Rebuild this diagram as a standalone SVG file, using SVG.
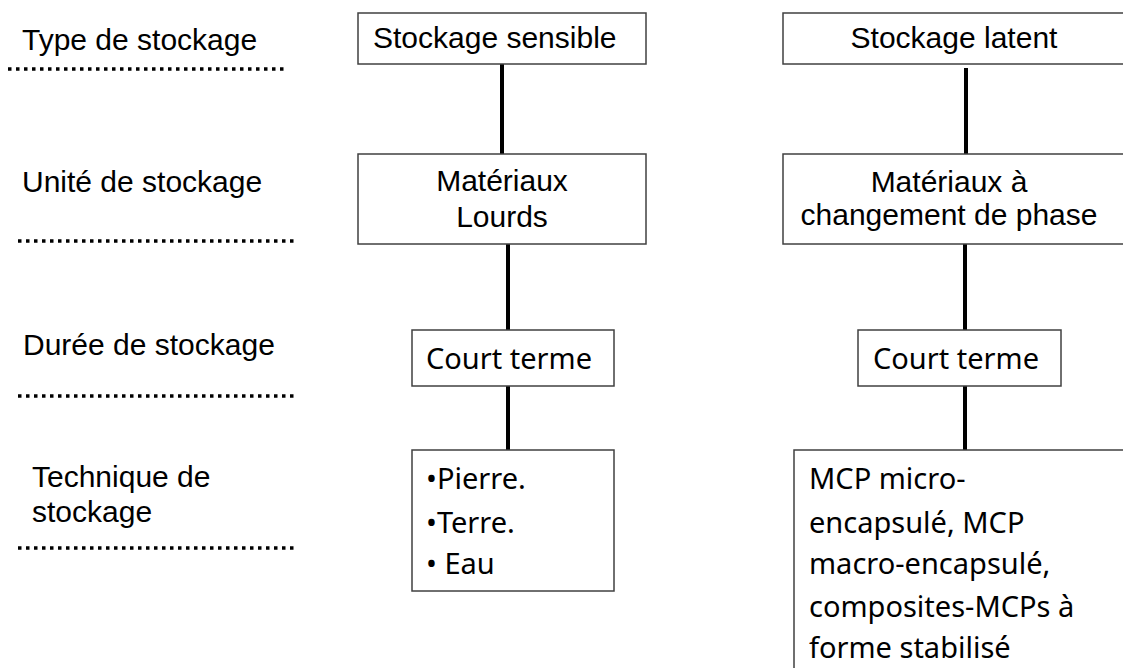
<svg xmlns="http://www.w3.org/2000/svg" width="1123" height="668" viewBox="0 0 1123 668">
<style>
.box{fill:#fff;stroke:#404040;stroke-width:1.5}
.conn{stroke:#000;stroke-width:4;fill:none}
.dot{stroke:#000;stroke-width:3.5;stroke-dasharray:3.5 4.5;fill:none}
.a{font-family:"Liberation Sans",Arial,sans-serif;font-size:30px;fill:#000}
.c{font-family:"Noto Sans","Open Sans",sans-serif;font-size:29px;fill:#000}
</style>
<rect width="1123" height="668" fill="#fff"/>
<g id="labels">
<text class="a" x="22" y="50">Type de stockage</text>
<path class="dot" d="M8 69H285"/>
<text class="a" x="22" y="192">Unité de stockage</text>
<path class="dot" d="M18 241H295"/>
<text class="a" x="23" y="355">Durée de stockage</text>
<path class="dot" d="M18 396H295"/>
<text class="a" x="32" y="487">Technique de</text>
<text class="a" x="32" y="522">stockage</text>
<path class="dot" d="M18 548H295"/>
</g>
<g id="connectors">
<path class="conn" d="M502 64V155"/>
<path class="conn" d="M508 244V331"/>
<path class="conn" d="M508 386V452"/>
<path class="conn" d="M966 68V157"/>
<path class="conn" d="M965 244V332"/>
<path class="conn" d="M965 386V452"/>
</g>
<g id="n-sensible">
<rect class="box" x="358" y="13" width="288" height="51"/>
<text class="a" x="373" y="48">Stockage sensible</text>
</g>
<g id="n-latent">
<rect class="box" x="783" y="13" width="342" height="51"/>
<text class="a" x="954" y="48" text-anchor="middle">Stockage latent</text>
</g>
<g id="n-lourds">
<rect class="box" x="358" y="154" width="288" height="90"/>
<text class="a" x="502" y="191" text-anchor="middle">Matériaux</text>
<text class="a" x="502" y="227" text-anchor="middle">Lourds</text>
</g>
<g id="n-mcp">
<rect class="box" x="783" y="154" width="342" height="90"/>
<text class="a" x="949" y="192" text-anchor="middle">Matériaux à</text>
<text class="a" x="949" y="225" text-anchor="middle">changement de phase</text>
</g>
<g id="n-court1">
<rect class="box" x="412" y="330" width="202" height="56"/>
<text class="c" x="426" y="369">Court terme</text>
</g>
<g id="n-court2">
<rect class="box" x="858" y="330" width="203" height="56"/>
<text class="c" x="873" y="369">Court terme</text>
</g>
<g id="n-tech1">
<rect class="box" x="412" y="450" width="202" height="141"/>
<text class="c" x="426" y="489">•Pierre.</text>
<text class="c" x="426" y="533">•Terre.</text>
<text class="c" x="426" y="574">• Eau</text>
</g>
<g id="n-tech2">
<rect class="box" x="794" y="450" width="335" height="230"/>
<text class="c" x="809" y="489">MCP micro-</text>
<text class="c" x="809" y="533">encapsulé, MCP</text>
<text class="c" x="809" y="574">macro-encapsulé,</text>
<text class="c" x="809" y="617">composites-MCPs à</text>
<text class="c" x="809" y="658">forme stabilisé</text>
</g>
</svg>
